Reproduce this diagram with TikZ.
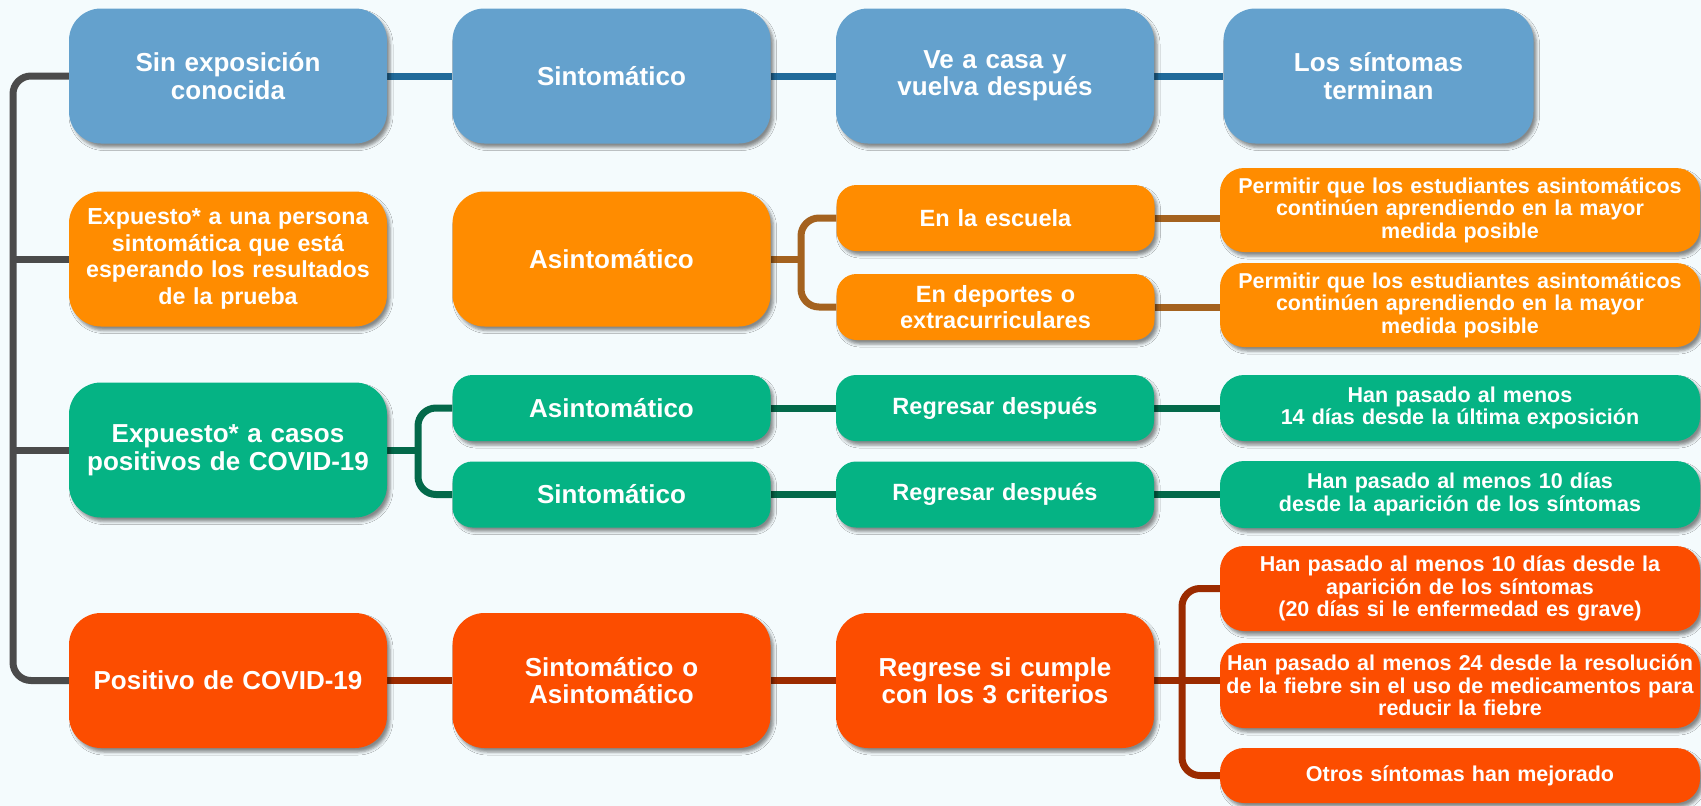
\documentclass[tikz,border=0pt]{standalone}
\usepackage{fontspec}
\setmainfont{Liberation Sans}
\usetikzlibrary{positioning,shadows.blur}

\definecolor{bgcol}{HTML}{F4FBFD}
\definecolor{bluebox}{HTML}{64A1CD}
\definecolor{bluelink}{HTML}{206A9A}
\definecolor{orangebox}{HTML}{FF8C00}
\definecolor{orangelink}{HTML}{A4621F}
\definecolor{greenbox}{HTML}{05B384}
\definecolor{greenlink}{HTML}{03694A}
\definecolor{redbox}{HTML}{FC4D00}
\definecolor{redlink}{HTML}{9B2B00}
\definecolor{graylink}{HTML}{4B4B4B}

\newcommand{\bigtxt}{\bfseries\fontsize{26}{27.5}\selectfont}
\newcommand{\midtxt}{\bfseries\fontsize{23.5}{26}\selectfont}
\newcommand{\smalltxt}{\bfseries\fontsize{21.5}{22.5}\selectfont}

\pgfdeclarelayer{bg}
\pgfdeclarelayer{links}
\pgfsetlayers{bg,links,main}

\tikzset{
  card/.style={rounded corners=#1, text=white, align=center, inner sep=0pt,
    blur shadow={shadow xshift=3pt, shadow yshift=-4pt, shadow blur radius=3pt, shadow opacity=45}},
  bigcard/.style={card=32pt, minimum width=318pt, minimum height=135pt, text width=306pt, font=\bigtxt},
  smallcard/.style={card=20pt, minimum width=318pt, minimum height=66pt, text width=306pt, font=\midtxt},
  widecard/.style={card=24pt, minimum width=480pt, text width=470pt, font=\smalltxt},
  link/.style={line width=7pt, rounded corners=18pt},
}

\begin{document}
\begin{tikzpicture}[x=1pt, y=-1pt, node distance=383.5pt]
\useasboundingbox (0,0) rectangle (1701,806);

% sin exposicion
\node[bigcard, fill=bluebox] (sinexp) at (228,76) {Sin exposición\\conocida};
\node[bigcard, fill=bluebox, right of=sinexp] (sintoma) {Sintomático};
\node[bigcard, fill=bluebox, right of=sintoma] (casa) {Ve a casa y\\vuelva después};
\node[bigcard, fill=bluebox, minimum width=310pt, right of=casa] (terminan) {Los síntomas\\terminan};

% expuesto a persona sintomatica
\node[bigcard, fill=orangebox, font=\bfseries\fontsize{23.2}{26.5}\selectfont] (expesp) at (228,259) {Expuesto* a una persona\\sintomática que está\\esperando los resultados\\de la prueba};
\node[bigcard, fill=orangebox, right of=expesp] (asinto) {Asintomático};
\node[smallcard, fill=orangebox] (escuela) at (995.5,218) {En la escuela};
\node[smallcard, fill=orangebox] (deportes) at (995.5,307) {En deportes o\\extracurriculares};
\node[widecard, fill=orangebox, minimum height=84pt] (permitir1) at (1460,210) {Permitir que los estudiantes asintomáticos\\continúen aprendiendo en la mayor\\medida posible};
\node[widecard, fill=orangebox, minimum height=84pt] (permitir2) at (1460,305) {Permitir que los estudiantes asintomáticos\\continúen aprendiendo en la mayor\\medida posible};

% expuesto a casos positivos
\node[bigcard, fill=greenbox] (expcovid) at (228,450) {Expuesto* a casos\\positivos de COVID-19};
\node[smallcard, fill=greenbox, font=\bigtxt, right of=expcovid, yshift=42pt] (asinto2) {Asintomático};
\node[smallcard, fill=greenbox, font=\bigtxt, right of=expcovid, yshift=-44.5pt] (sintoma2) {Sintomático};
\node[smallcard, fill=greenbox, right of=asinto2] (regresar1) {Regresar después};
\node[smallcard, fill=greenbox, right of=sintoma2] (regresar2) {Regresar después};
\node[widecard, fill=greenbox, minimum height=66pt] (catorce) at (1460,408) {Han pasado al menos\\14 días desde la última exposición};
\node[widecard, fill=greenbox, minimum height=67pt] (diez) at (1460,494.5) {Han pasado al menos 10 días\\desde la aparición de los síntomas};

% positivo
\node[bigcard, fill=redbox] (positivo) at (228,680.5) {Positivo de COVID-19};
\node[bigcard, fill=redbox, right of=positivo] (sintoasinto) {Sintomático o\\Asintomático};
\node[bigcard, fill=redbox, right of=sintoasinto] (regrese) {Regrese si cumple\\con los 3 criterios};
\node[widecard, fill=redbox, minimum height=85pt] (crit1) at (1460,588.5) {Han pasado al menos 10 días desde la\\aparición de los síntomas\\(20 días si le enfermedad es grave)};
\node[widecard, fill=redbox, minimum height=85pt] (crit2) at (1460,685.5) {Han pasado al menos 24 desde la resolución\\de la fiebre sin el uso de medicamentos para\\reducir la fiebre};
\node[widecard, fill=redbox, minimum height=55pt] (crit3) at (1460,775.5) {Otros síntomas han mejorado};

\coordinate (spine) at (13,0);
\coordinate (obrk) at (801,0);
\coordinate (gbrk) at (418,0);
\coordinate (rbrk) at (1182,0);

\begin{pgfonlayer}{bg}
\fill[bgcol] (0,0) rectangle (1701,806);
\end{pgfonlayer}

\begin{pgfonlayer}{links}
\draw[link, graylink] (sinexp.west) -| (spine |- positivo.west) -- (positivo.west);
\draw[link, graylink] (spine |- expesp.west) -- (expesp.west);
\draw[link, graylink] (spine |- expcovid.west) -- (expcovid.west);

\draw[link, bluelink] (sinexp) -- (sintoma);
\draw[link, bluelink] (sintoma) -- (casa);
\draw[link, bluelink] (casa) -- (terminan);

\draw[link, orangelink] (asinto.east) -- (obrk |- asinto.east);
\draw[link, orangelink] (escuela.west) -| (obrk |- deportes.west) -- (deportes.west);
\draw[link, orangelink] (escuela.east) -- (escuela.east -| permitir1.west);
\draw[link, orangelink] (deportes.east) -- (deportes.east -| permitir2.west);

\draw[link, greenlink] (expcovid.east) -- (gbrk |- expcovid.east);
\draw[link, greenlink] (asinto2.west) -| (gbrk |- sintoma2.west) -- (sintoma2.west);
\draw[link, greenlink] (asinto2) -- (regresar1);
\draw[link, greenlink] (sintoma2) -- (regresar2);
\draw[link, greenlink] (regresar1.east) -- (regresar1.east -| catorce.west);
\draw[link, greenlink] (regresar2.east) -- (regresar2.east -| diez.west);

\draw[link, redlink] (positivo) -- (sintoasinto);
\draw[link, redlink] (sintoasinto) -- (regrese);
\draw[link, redlink] (regrese.east) -- (regrese.east -| crit2.west);
\draw[link, redlink] (crit1.west) -| (rbrk |- crit3.west) -- (crit3.west);
\end{pgfonlayer}
\end{tikzpicture}
\end{document}
